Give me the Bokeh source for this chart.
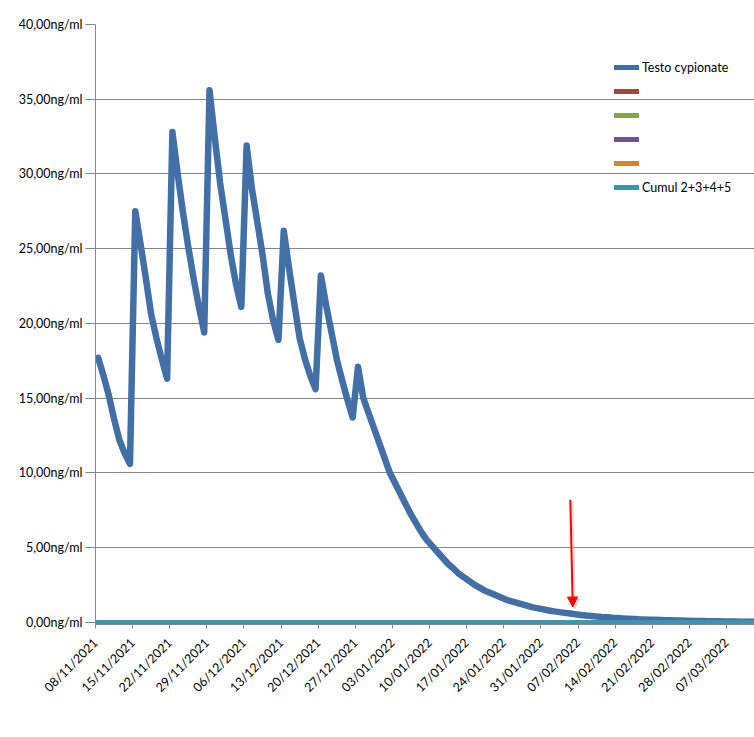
import pandas as pd
from math import pi
from bokeh.plotting import figure
from bokeh.models import (Range1d, FixedTicker, DatetimeTickFormatter, CustomJSTickFormatter,
                          Legend, LegendItem, Arrow, NormalHead)
from bokeh.embed import file_html
from bokeh.resources import INLINE

# ---------------- data ----------------
START = "2021-11-08"
testo = [
    17.7, 16.5, 15.2, 13.6, 12.2, 11.3, 10.6,
    27.5, 25.3, 23.0, 20.6, 19.0, 17.6, 16.3,
    32.8, 30.0, 27.4, 25.1, 23.0, 21.1, 19.4,
    35.6, 32.4, 29.4, 27.0, 24.6, 22.6, 21.1,
    31.9, 29.0, 26.8, 24.6, 22.0, 20.2, 18.9,
    26.2, 23.7, 21.3, 19.0, 17.6, 16.5, 15.6,
    23.2, 21.2, 19.4, 17.6, 16.2, 14.9, 13.7,
    17.1, 15.0, 14.0, 13.0, 12.0, 11.0, 10.0,
    9.3, 8.6, 7.9, 7.2, 6.6, 6.0, 5.5,
    5.1, 4.7, 4.3, 3.9, 3.6, 3.25, 3.0,
    2.75, 2.5, 2.3, 2.1, 1.95, 1.8, 1.65,
    1.5, 1.4, 1.3, 1.2, 1.1, 1.0, 0.93,
    0.86, 0.79, 0.73, 0.68, 0.63, 0.58, 0.53,
    0.49, 0.45, 0.42, 0.38, 0.35, 0.33, 0.30,
    0.28, 0.26, 0.24, 0.22, 0.20, 0.19, 0.17,
    0.16, 0.15, 0.14, 0.13, 0.12, 0.11, 0.10,
    0.09, 0.085, 0.08, 0.07, 0.065, 0.06, 0.055,
    0.05, 0.045, 0.04, 0.04, 0.035, 0.03, 0.03,
]
series2 = [0.0] * len(testo)
series3 = [0.0] * len(testo)
series4 = [0.0] * len(testo)
series5 = [0.0] * len(testo)
cumul = [a + b + c + d for a, b, c, d in zip(series2, series3, series4, series5)]

labels = ["Testo cypionate", " ", " ", " ", " ", "Cumul 2+3+4+5"]
colors = ["#416FA6", "#A8423F", "#86A44A", "#6E548D", "#DA8137", "#3D96AE"]

y_ticks = [0, 5, 10, 15, 20, 25, 30, 35, 40]
tick_dates = pd.date_range(START, "2022-03-14", freq="7D")

# arrow annotation (date, value)
arrow_start = ("2022-02-05 13:00", 8.2)
arrow_end = ("2022-02-06 00:00", 1.02)

# ---------------- helpers ----------------
def ms(ts):
    return pd.Timestamp(ts).value / 1e6

dates = pd.date_range(START, periods=len(testo), freq="D")
x = [ms(d) + 12 * 3600 * 1000 for d in dates]  # centre of each day slot

FONT = "Lato"
FS = "12.5px"
GRID = "#868686"

x0 = ms(START)
x1 = x0 + 124.27 * 86400 * 1000

p = figure(width=754, height=737, x_axis_type="datetime",
           x_range=Range1d(x0, x1), y_range=Range1d(-0.15, 40),
           output_backend="svg", toolbar_location=None,
           min_border_left=95, min_border_right=0, min_border_top=24, min_border_bottom=113)
p.outline_line_color = None
p.background_fill_color = "white"
p.border_fill_color = "white"

p.xgrid.visible = False
p.ygrid.grid_line_color = GRID
p.ygrid.grid_line_width = 1
p.yaxis.ticker = FixedTicker(ticks=y_ticks)
p.ygrid.ticker = FixedTicker(ticks=y_ticks)
p.yaxis.formatter = CustomJSTickFormatter(code="return tick.toFixed(2).replace('.', ',') + 'ng/ml';")
p.yaxis.axis_line_color = GRID
p.yaxis.major_tick_line_color = GRID
p.yaxis.major_tick_out = 10
p.yaxis.major_tick_in = 0
p.yaxis.minor_tick_line_color = None
p.yaxis.major_label_standoff = 3

p.xaxis.ticker = FixedTicker(ticks=[ms(t) for t in tick_dates])
fmt = "%d/%m/%Y"
p.xaxis.formatter = DatetimeTickFormatter(days=fmt, months=fmt, years=fmt, hours=fmt,
                                          hourmin=fmt, minutes=fmt, minsec=fmt,
                                          seconds=fmt, milliseconds=fmt, microseconds=fmt)
p.xaxis.major_label_orientation = pi / 4
p.xaxis.axis_line_color = GRID
p.xaxis.major_tick_line_color = GRID
p.xaxis.major_tick_out = 4
p.xaxis.major_tick_in = 0
p.xaxis.minor_tick_line_color = None
p.xaxis.major_label_standoff = 12

for ax in (p.xaxis, p.yaxis):
    ax.major_label_text_font = FONT
    ax.major_label_text_font_size = FS
    ax.major_label_text_color = "black"

# ---------------- series ----------------
for ser, col in zip([series2, series3, series4, series5], colors[1:5]):
    p.line(x, ser, line_color=col, line_width=4.5, line_cap="round", line_join="round")
p.line(x, testo, line_color=colors[0], line_width=6.5, line_cap="round", line_join="round")
p.line(x, cumul, line_color=colors[5], line_width=4.5, line_cap="round", line_join="round")

# arrow (with faint shadow)
p.add_layout(Arrow(end=NormalHead(size=10, fill_color="#bbbbbb", line_color="#bbbbbb", fill_alpha=0.5, line_alpha=0.5),
                   x_start=ms(arrow_start[0]) + 0.4 * 86400e3, y_start=arrow_start[1] - 0.12,
                   x_end=ms(arrow_end[0]) + 0.4 * 86400e3, y_end=arrow_end[1] - 0.12,
                   line_color="#bbbbbb", line_alpha=0.5, line_width=2))
p.add_layout(Arrow(end=NormalHead(size=10, fill_color="red", line_color="red"),
                   x_start=ms(arrow_start[0]), y_start=arrow_start[1],
                   x_end=ms(arrow_end[0]), y_end=arrow_end[1],
                   line_color="red", line_width=2))

# legend: single-point proxy lines (draw nothing on the plot) carry the legend glyph style
all_series = [testo, series2, series3, series4, series5, cumul]
items = []
for lab, col, ser in zip(labels, colors, all_series):
    r = p.line(x[:1], ser[:1], line_color=col, line_width=5, line_cap="round")
    items.append(LegendItem(label=lab, renderers=[r]))
legend = Legend(items=items, location=(519, 427), padding=0, margin=0, spacing=4,
                glyph_width=25, glyph_height=20, label_height=20, label_standoff=3,
                label_text_font=FONT, label_text_font_size=FS, label_text_color="black",
                border_line_color=None, background_fill_alpha=0)
p.add_layout(legend)

open("out.html", "w").write(file_html(p, INLINE))
